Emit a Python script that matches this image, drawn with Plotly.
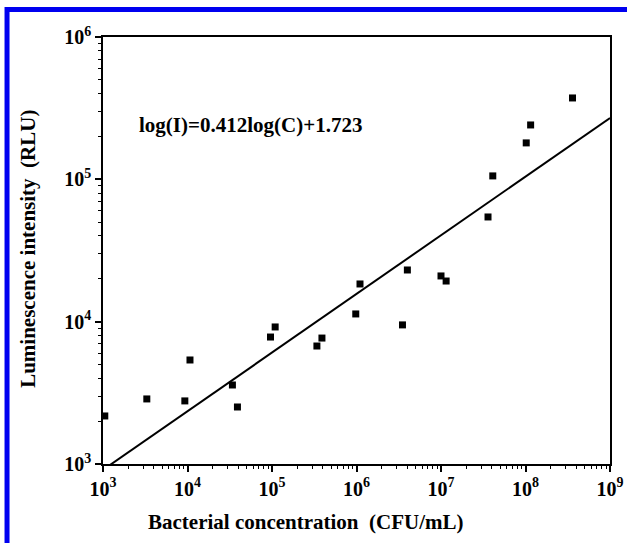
import numpy as np
import plotly.graph_objects as go

# Bacterial concentration (CFU/mL) and measured luminescence (RLU)
concentration = [1.05e3, 3.3e3, 9.3e3, 1.07e4, 3.4e4, 3.9e4, 9.6e4, 1.09e5,
                 3.4e5, 3.9e5, 9.8e5, 1.1e6, 3.5e6, 4.0e6, 1.0e7, 1.15e7,
                 3.6e7, 4.1e7, 1.02e8, 1.15e8, 3.6e8]
luminescence = [2175, 2865, 2775, 5380, 3590, 2515, 7800, 9180,
                6745, 7670, 11330, 18400, 9490, 23070, 20950, 19300,
                54400, 105700, 180300, 241000, 373000]

# Linear fit in log-log space: log(I) = slope*log(C) + intercept
slope = 0.412
intercept = 1.723

x_tick_exponents = [3, 4, 5, 6, 7, 8, 9]
y_tick_exponents = [3, 4, 5, 6]

fit_x = np.array([1e3, 1e9])
fit_y = 10 ** (slope * np.log10(fit_x) + intercept)

font_family = "Liberation Serif"

fig = go.Figure()
fig.add_trace(go.Scatter(
    x=fit_x, y=fit_y, mode="lines",
    line=dict(color="black", width=2),
    showlegend=False, hoverinfo="skip",
))
fig.add_trace(go.Scatter(
    x=concentration, y=luminescence, mode="markers",
    marker=dict(symbol="square", size=7, color="black"),
    showlegend=False,
))

axis_common = dict(
    type="log",
    showline=True, linecolor="black", linewidth=1.5, mirror=True,
    showgrid=False, zeroline=False, automargin=False,
    ticklabeloverflow="allow",
    ticks="outside", ticklen=6, tickwidth=1.5, tickcolor="black",
    minor=dict(ticks="outside", ticklen=3, tickwidth=1, tickcolor="black",
               showgrid=False, dtick="D1"),
    tickfont=dict(family=font_family, size=20, color="black"),
)

fig.update_xaxes(
    **axis_common,
    range=[3, 9],
    tickvals=[10 ** e for e in x_tick_exponents],
    ticktext=[f"<b>10<sup>{e}</sup></b>" for e in x_tick_exponents],
)
fig.update_yaxes(
    **axis_common,
    range=[3, 6],
    tickvals=[10 ** e for e in y_tick_exponents],
    ticktext=[f"<b>10<sup>{e}</sup></b>" for e in y_tick_exponents],
)

title_font = dict(family=font_family, size=21, color="black")

# Axis titles
fig.add_annotation(
    x=0.40, y=-0.135, xref="paper", yref="paper",
    xanchor="center", yanchor="middle", showarrow=False,
    text="<b>Bacterial concentration  (CFU/mL)</b>", font=title_font,
)
fig.add_annotation(
    x=-0.147, y=0.505, xref="paper", yref="paper",
    xanchor="center", yanchor="middle", showarrow=False, textangle=-90,
    text="<b>Luminescence intensity  (RLU)</b>", font=title_font,
)

# Fit equation
fig.add_annotation(
    x=0.068, y=0.795, xref="paper", yref="paper",
    xanchor="left", yanchor="middle", showarrow=False,
    text="<b>log(I)=0.412log(C)+1.723</b>",
    font=dict(family=font_family, size=21, color="black"),
)

# Blue frame along the top and left edges of the figure
blue = "#0000f0"
fig.add_shape(type="line", xref="paper", yref="paper",
              x0=-0.193, x1=1.1, y0=1.0644, y1=1.0644,
              line=dict(color=blue, width=5))
fig.add_shape(type="line", xref="paper", yref="paper",
              x0=-0.1893, x1=-0.1893, y0=1.07, y1=-0.25,
              line=dict(color=blue, width=5))

fig.update_layout(
    width=627, height=543,
    margin=dict(l=103, r=17, t=37, b=79),
    paper_bgcolor="white", plot_bgcolor="white",
    font=dict(family=font_family, color="black"),
)

fig.write_html("out.html")
